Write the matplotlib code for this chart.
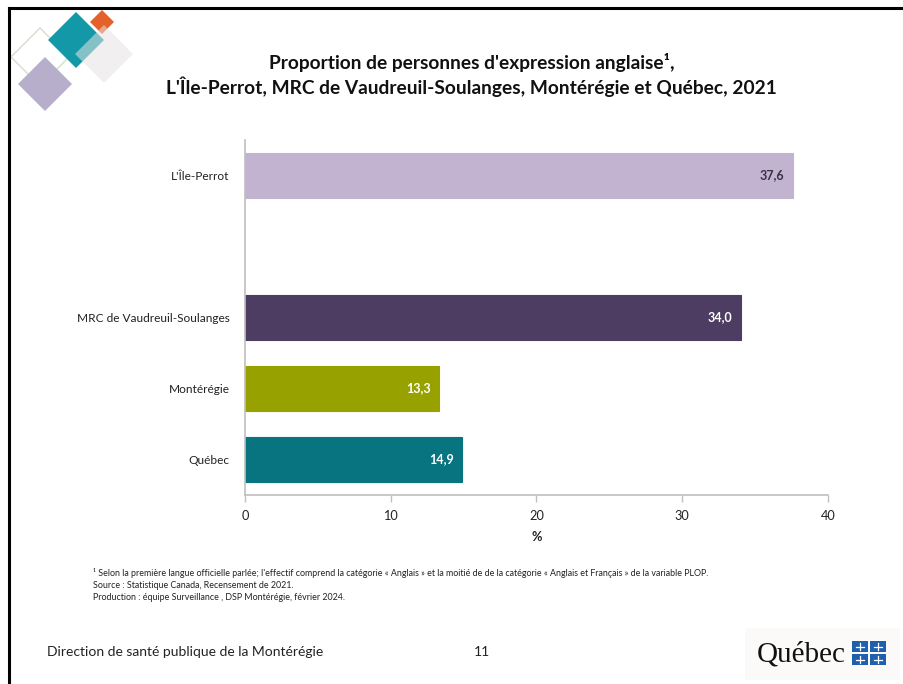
import numpy as np
import matplotlib
matplotlib.use("Agg")
import matplotlib.pyplot as plt
from matplotlib.patches import Polygon, Rectangle

plt.rcParams['font.family'] = ['Lato', 'DejaVu Sans']

# ---- data ----
categories = ["Québec", "Montérégie", "MRC de Vaudreuil-Soulanges", "", "L'Île-Perrot"]
values = [14.9, 13.3, 34.0, np.nan, 37.6]
bar_colors = ["#077480", "#97A200", "#4E3D62", "#FFFFFF", "#C2B3D0"]
label_colors = ["white", "white", "white", "white", "#3A3148"]
xticks = [0, 10, 20, 30, 40]

title = "Proportion de personnes d'expression anglaise¹,\nL'Île-Perrot, MRC de Vaudreuil-Soulanges, Montérégie et Québec, 2021"
footnotes = ["¹ Selon la première langue officielle parlée; l'effectif comprend la catégorie « Anglais » et la moitié de de la catégorie « Anglais et Français » de la variable PLOP.",
             "Source : Statistique Canada, Recensement de 2021.",
             "Production : équipe Surveillance , DSP Montérégie, février 2024."]
footer_left = "Direction de santé publique de la Montérégie"
page_num = "11"

W, H = 904, 684
fig = plt.figure(figsize=(W / 100, H / 100), dpi=100)
fig.patch.set_facecolor("white")

# ---- background overlay (decorations) ----
bg = fig.add_axes([0, 0, 1, 1])
bg.set_xlim(0, W)
bg.set_ylim(H, 0)
bg.axis("off")

def diamond(cx, cy, r, **kw):
    return Polygon([(cx - r, cy), (cx, cy - r), (cx + r, cy), (cx, cy + r)], closed=True, **kw)

bg.add_patch(diamond(40, 57, 29, facecolor="none", edgecolor="#DCE3D6", lw=1.2))
bg.add_patch(diamond(45, 84, 27, facecolor="#B7AECB", edgecolor="none"))
bg.add_patch(diamond(76, 40, 28, facecolor="#1298A6", edgecolor="none"))
bg.add_patch(diamond(102, 22, 12, facecolor="#E4622A", edgecolor="none"))
bg.add_patch(diamond(104, 54, 29, facecolor="#E6E3E3", edgecolor="none", alpha=0.55))

# slide border (top & left)
bg.plot([9, W], [8, 8], color="black", lw=2.2)
bg.plot([9, 9], [8, H], color="black", lw=2.2)

# footnotes
for i, t in enumerate(footnotes):
    bg.text(93, 573 + i * 12.5, t, fontsize=6.4, color="#222222", va="center", ha="left")

bg.text(47, 652, footer_left, fontsize=10, color="#222222", va="center", ha="left")
bg.text(474, 652, page_num, fontsize=10, color="#222222", va="center", ha="left")

# Québec logo
bg.add_patch(Rectangle((745, 628), 155, 52, facecolor="#FBFAF8", edgecolor="none"))
bg.text(757, 655, "Québec", fontsize=21, family="Liberation Serif", color="#111111",
        va="center", ha="left")
for (sx, sy) in [(852, 641), (870, 641), (852, 654), (870, 654)]:
    bg.add_patch(Rectangle((sx, sy), 16, 11, facecolor="#1F5FAE", edgecolor="none"))
    bg.plot([sx + 8, sx + 8], [sy + 2, sy + 9], color="white", lw=0.9)
    bg.plot([sx + 4, sx + 12], [sy + 5.5, sy + 5.5], color="white", lw=0.9)

# title
fig.text(0.522, 1 - 75 / H, title, ha="center", va="center", fontsize=13.8,
         fontweight="bold", color="#111111", linespacing=1.3)

# ---- main chart ----
ax = fig.add_axes([245 / W, 1 - 495 / H, (828 - 245) / W, (495 - 140) / H])
ypos = np.arange(len(categories))
ax.barh(ypos, values, height=0.62, color=bar_colors, edgecolor=bar_colors, lw=0.8)
for y, v, c in zip(ypos, values, label_colors):
    if np.isnan(v):
        continue
    ax.annotate(f"{v:.1f}".replace(".", ","), xy=(v, y), xytext=(-6, 0),
                textcoords="offset points", ha="right", va="center",
                fontsize=9, fontweight="bold", color=c)

ax.set_xlim(0, 40)
ax.set_ylim(-0.5, len(categories) - 0.5)
ax.set_xticks(xticks)
ax.set_xticklabels([str(t) for t in xticks], fontsize=9.2, color="#222222")
ax.set_yticks(ypos)
ax.set_yticklabels(categories, fontsize=8.6, color="#222222")
ax.tick_params(axis="y", length=0, pad=11)
ax.tick_params(axis="x", length=5, width=1, color="#BFBFBF", pad=6, direction="out")
ax.set_xlabel("%", fontsize=9.2, fontweight="bold", color="#222222", labelpad=6)
for s in ["top", "right"]:
    ax.spines[s].set_visible(False)
for s in ["left", "bottom"]:
    ax.spines[s].set_color("#BFBFBF")
    ax.spines[s].set_linewidth(1.2)
ax.set_facecolor("none")

fig.savefig("out.png", dpi=100, facecolor="white")
